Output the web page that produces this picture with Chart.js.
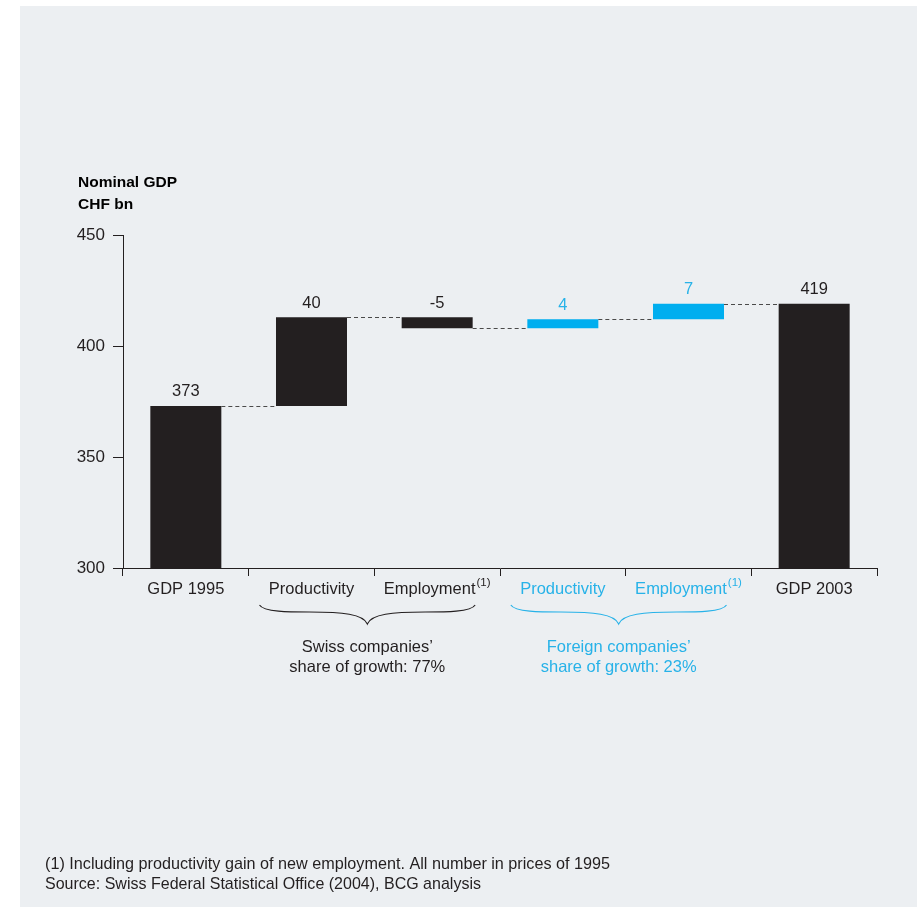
<!DOCTYPE html>
<html lang="en">
  <head>
    <meta charset="UTF-8" />
    <title>Swiss nominal GDP growth 1995-2003</title>
    <script src="https://cdn.jsdelivr.net/npm/chart.js"></script>
    <style>
      body { margin: 0; background: #ffffff; }
      #panel {
        position: absolute; left: 20px; top: 6px;
        width: 897px; height: 901px; background: #eceff2;
      }
      #chart { position: absolute; left: 0; top: 0; }
    </style>
  </head>
  <body>
    <div id="panel"></div>
    <canvas id="chart" width="917" height="907"></canvas>

    <script>
      // categories and values
      const categories = ["GDP 1995", "Productivity", "Employment", "Productivity", "Employment", "GDP 2003"];
      const superscripts = ["", "", "(1)", "", "(1)", ""];
      const groups = ["total", "swiss", "swiss", "foreign", "foreign", "total"];
      const values = [373, 40, -5, 4, 7, 419];
      const valueLabels = ["373", "40", "-5", "4", "7", "419"];
      const yTicks = [300, 350, 400, 450];
      const braceGroups = [
        { from: 1, to: 2, lines: ["Swiss companies\u2019", "share of growth: 77%"], group: "swiss" },
        { from: 3, to: 4, lines: ["Foreign companies\u2019", "share of growth: 23%"], group: "foreign" },
      ];
      const notes = [
        "(1) Including productivity gain of new employment. All number in prices of 1995",
        "Source: Swiss Federal Statistical Office (2004), BCG analysis",
      ];

      const DARK = "#231f20";
      const BLUE = "#00aeef";
      const BLUE_TEXT = "#27b2e8";
      const FONT = "'Liberation Sans', Arial, sans-serif";

      // build floating ranges for the waterfall
      const axisMin = yTicks[0];
      let running = 0;
      const ranges = values.map((v, i) => {
        if (groups[i] === "total") {
          running = v;
          return [axisMin, v];
        }
        const start = running;
        running += v;
        return [start, running];
      });
      const barColors = groups.map((g) => (g === "foreign" ? BLUE : DARK));
      const textColors = groups.map((g) => (g === "foreign" ? BLUE_TEXT : DARK));

      const waterfallPlugin = {
        id: "waterfall",
        afterDatasetsDraw(chart) {
          const ctx = chart.ctx;
          const y = chart.scales.y;
          const meta = chart.getDatasetMeta(0);

          // dashed connectors
          ctx.save();
          ctx.strokeStyle = "#4a4a4a";
          ctx.lineWidth = 1;
          ctx.setLineDash([4, 3]);
          for (let i = 0; i < ranges.length - 1; i++) {
            const level = ranges[i][1];
            const a = meta.data[i];
            const b = meta.data[i + 1];
            const py = Math.round(y.getPixelForValue(level)) + 0.5;
            ctx.beginPath();
            ctx.moveTo(a.x + a.width / 2, py);
            ctx.lineTo(b.x - b.width / 2, py);
            ctx.stroke();
          }
          ctx.restore();

          // value labels above bars
          ctx.save();
          ctx.font = "16.5px " + FONT;
          ctx.textAlign = "center";
          ctx.textBaseline = "middle";
          meta.data.forEach((bar, i) => {
            const top = y.getPixelForValue(Math.max(ranges[i][0], ranges[i][1]));
            ctx.fillStyle = textColors[i];
            ctx.fillText(valueLabels[i], bar.x, top - 14);
          });
          ctx.restore();
        },
        afterDraw(chart) {
          const ctx = chart.ctx;
          const x = chart.scales.x;

          // category labels with superscripts
          ctx.save();
          ctx.textBaseline = "middle";
          ctx.textAlign = "left";
          categories.forEach((label, i) => {
            const cx = x.getPixelForValue(i);
            ctx.font = "16.5px " + FONT;
            const w1 = ctx.measureText(label).width;
            ctx.font = "11.5px " + FONT;
            const w2 = superscripts[i] ? ctx.measureText(superscripts[i]).width + 1 : 0;
            const left = cx - (w1 + w2) / 2;
            ctx.fillStyle = textColors[i];
            ctx.font = "16.5px " + FONT;
            ctx.fillText(label, left, 589);
            if (superscripts[i]) {
              ctx.font = "11.5px " + FONT;
              ctx.fillText(superscripts[i], left + w1 + 1, 583);
            }
          });
          ctx.restore();

          // braces and group captions
          braceGroups.forEach((g) => {
            const x1 = x.getPixelForValue(g.from) - 52;
            const x2 = x.getPixelForValue(g.to) + 38;
            const xm = (x1 + x2) / 2;
            const y0 = 605;
            const color = g.group === "foreign" ? BLUE_TEXT : DARK;
            ctx.save();
            ctx.strokeStyle = color;
            ctx.lineWidth = 1.1;
            ctx.beginPath();
            ctx.moveTo(x1, y0);
            ctx.bezierCurveTo(x1 + 4, y0 + 7, x1 + 30, y0 + 7, x1 + 50, y0 + 7);
            ctx.bezierCurveTo(xm - 25, y0 + 7, xm - 4, y0 + 9, xm, y0 + 19);
            ctx.bezierCurveTo(xm + 4, y0 + 9, xm + 25, y0 + 7, x2 - 50, y0 + 7);
            ctx.bezierCurveTo(x2 - 30, y0 + 7, x2 - 4, y0 + 7, x2, y0);
            ctx.stroke();
            ctx.fillStyle = color;
            ctx.font = "16.5px " + FONT;
            ctx.textAlign = "center";
            ctx.textBaseline = "middle";
            g.lines.forEach((line, k) => ctx.fillText(line, xm, 647 + k * 20.5));
            ctx.restore();
          });

          // axis title
          ctx.save();
          ctx.fillStyle = "#000000";
          ctx.font = "bold 15.5px " + FONT;
          ctx.textAlign = "left";
          ctx.textBaseline = "middle";
          ctx.fillText("Nominal GDP", 78, 183);
          ctx.fillText("CHF bn", 78, 205);
          ctx.restore();

          // footnotes
          ctx.save();
          ctx.fillStyle = "#231f20";
          ctx.font = "16.2px 'Liberation Sans Narrow', 'Liberation Sans', Arial, sans-serif";
          ctx.textAlign = "left";
          ctx.textBaseline = "middle";
          ctx.fillText(notes[0], 45, 865, 567);
          ctx.fillText(notes[1], 45, 885, 436);
          ctx.restore();
        },
      };

      new Chart(document.getElementById("chart"), {
        type: "bar",
        data: {
          labels: categories,
          datasets: [
            {
              data: ranges,
              backgroundColor: barColors,
              borderWidth: 0,
              barPercentage: 0.565,
              categoryPercentage: 1,
            },
          ],
        },
        options: {
          responsive: false,
          animation: false,
          devicePixelRatio: 1,
          layout: { padding: { left: 0, right: 40, top: 235, bottom: 319 } },
          plugins: { legend: { display: false }, tooltip: { enabled: false } },
          scales: {
            x: {
              offset: true,
              grid: {
                offset: true,
                drawOnChartArea: false,
                color: DARK,
                tickLength: 8,
                lineWidth: 1,
              },
              border: { display: true, color: DARK, width: 1 },
              ticks: { display: false },
              afterFit(scale) {
                scale.height = 20;
              },
            },
            y: {
              min: yTicks[0],
              max: yTicks[yTicks.length - 1],
              afterBuildTicks(scale) {
                scale.ticks = yTicks.map((v) => ({ value: v }));
              },
              grid: {
                drawOnChartArea: false,
                color: DARK,
                tickLength: 10,
                lineWidth: 1,
              },
              border: { display: true, color: DARK, width: 1 },
              ticks: {
                color: DARK,
                padding: 8,
                font: { size: 17, family: FONT },
              },
              afterFit(scale) {
                scale.width = 123;
              },
            },
          },
        },
        plugins: [waterfallPlugin],
      });
    </script>
  </body>
</html>
